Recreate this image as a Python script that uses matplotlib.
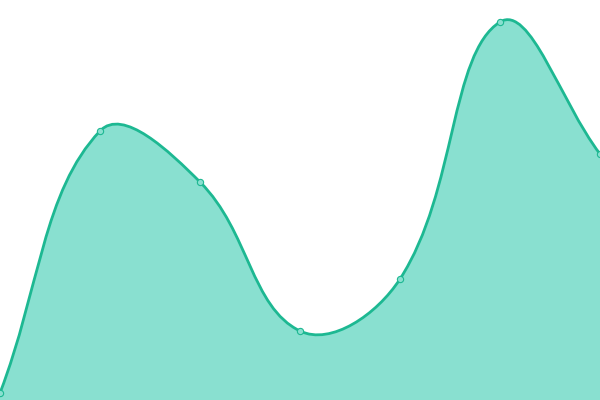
import matplotlib
matplotlib.use("Agg")
import matplotlib.pyplot as plt
import numpy as np
from matplotlib.path import Path
from matplotlib.patches import PathPatch

categories = [0, 1, 2, 3, 4, 5, 6]
values = [7, 269, 218, 69, 121, 378, 246]

line_color = "#1db892"
fill_color = "#89e0d0"

fig = plt.figure(figsize=(6, 4), dpi=100)
ax = fig.add_axes([0, 0, 1, 1])
ax.set_xlim(0, 6)
ax.set_ylim(0, 400)
ax.axis("off")

x = np.array(categories, dtype=float)
y = np.array(values, dtype=float)
sx = 100.0  # pixel-like scaling so smoothing follows display proportions
pts = np.column_stack([x * sx, y])
tension = 0.4
n = len(pts)
cp_prev = []
cp_next = []
for i in range(n):
    prev = pts[i - 1] if i > 0 else pts[i]
    cur = pts[i]
    nxt = pts[i + 1] if i + 1 < n else pts[i]
    d01 = np.linalg.norm(cur - prev)
    d12 = np.linalg.norm(nxt - cur)
    tot = d01 + d12
    s01 = d01 / tot if tot else 0
    s12 = d12 / tot if tot else 0
    cp_prev.append(cur - tension * s01 * (nxt - prev))
    cp_next.append(cur + tension * s12 * (nxt - prev))
lo = np.array([0, 0])
hi = np.array([6 * sx, 400])
cp_prev = [np.clip(c, lo, hi) for c in cp_prev]
cp_next = [np.clip(c, lo, hi) for c in cp_next]

verts = [tuple(pts[0])]
codes = [Path.MOVETO]
for i in range(n - 1):
    verts += [tuple(cp_next[i]), tuple(cp_prev[i + 1]), tuple(pts[i + 1])]
    codes += [Path.CURVE4] * 3
verts = [(vx / sx, vy) for vx, vy in verts]

fill_verts = verts + [(x[-1], 0), (x[0], 0), verts[0]]
fill_codes = codes + [Path.LINETO, Path.LINETO, Path.CLOSEPOLY]
ax.add_patch(PathPatch(Path(fill_verts, fill_codes), facecolor=fill_color, edgecolor="none", zorder=1))
ax.add_patch(PathPatch(Path(verts, codes), facecolor="none", edgecolor=line_color, lw=2.0, zorder=2, capstyle="round"))
ax.plot(x, y, "o", ms=4.5, mfc=fill_color, mec=line_color, mew=0.8, zorder=3, clip_on=False)

fig.savefig("out.png", dpi=100)
